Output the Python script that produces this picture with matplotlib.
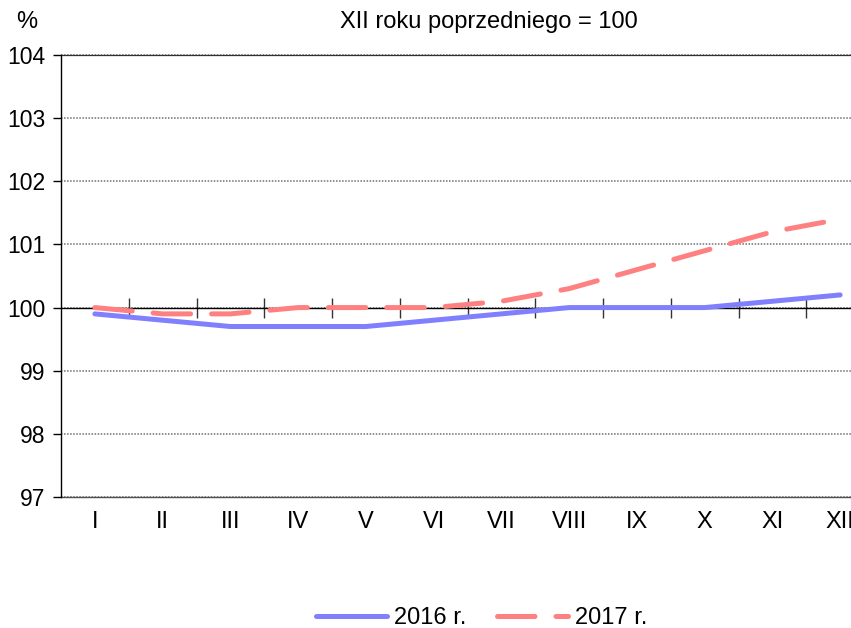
import matplotlib
matplotlib.use('Agg')
import matplotlib.pyplot as plt
import matplotlib.transforms as mtransforms
import numpy as np

plt.rcParams['font.family'] = ['Liberation Sans', 'DejaVu Sans']

months = ['I', 'II', 'III', 'IV', 'V', 'VI', 'VII', 'VIII', 'IX', 'X', 'XI', 'XII']
vals_2016 = [99.9, 99.8, 99.7, 99.7, 99.7, 99.8, 99.9, 100.0, 100.0, 100.0, 100.1, 100.2]
vals_2017 = [100.0, 99.9, 99.9, 100.0, 100.0, 100.0, 100.1, 100.3, 100.6, 100.9, 101.2, 101.4]
y_ticks = [97, 98, 99, 100, 101, 102, 103, 104]

W, H = 851, 628
fig = plt.figure(figsize=(W / 100, H / 100), dpi=100)
# plot area: left 61px, top 55px, bottom 497px, extends past right edge
ax = fig.add_axes([61 / W, 1 - 497 / H, 813 / W, 442 / H])

x = np.arange(len(months))
ax.set_xlim(-0.5, len(months) - 0.5)
ax.set_ylim(97, 104)

# grid
for v in y_ticks:
    ax.axhline(v, color='#707070', lw=1.1, ls=(0, (1, 1)), zorder=1, clip_on=False)
ax.axhline(104, color='#303030', lw=0.9, zorder=1, clip_on=False)
ax.axhline(97, color='#505050', lw=1.0, zorder=1, clip_on=False)

# axes lines
for s in ['top', 'right']:
    ax.spines[s].set_visible(False)
ax.spines['left'].set_color('black')
ax.spines['left'].set_linewidth(1)
ax.spines['bottom'].set_position(('data', 100))
ax.spines['bottom'].set_color('black')
ax.spines['bottom'].set_linewidth(1)
ax.spines['bottom'].set_zorder(2)

ax.set_xticks(x[:-1] + 0.5)
ax.set_xticklabels([])
ax.tick_params(axis='x', direction='inout', length=14, width=1, color='#333333')
ax.set_yticks(y_ticks)
ax.set_yticklabels([str(v) for v in y_ticks], fontsize=16.5)
ax.tick_params(axis='y', direction='out', length=6, width=1, pad=5)

trans = mtransforms.blended_transform_factory(ax.transData, ax.transAxes)
for i, m in enumerate(months):
    ax.text(i, -25 / 442, m, transform=trans, ha='center', va='center', fontsize=17)

l1, = ax.plot(x, vals_2016, color='#8080FF', lw=3.6, solid_capstyle='round',
              solid_joinstyle='round', label='2016 r.', zorder=4, clip_on=False)
l2, = ax.plot(x, vals_2017, color='#FF8080', lw=3.6, ls=(0, (7.5, 4.2)),
              dash_capstyle='round', label='2017 r.', zorder=5, clip_on=False)

fig.text(27 / W, 1 - 22 / H, '%', ha='center', va='center', fontsize=17)
fig.text(489 / W, 1 - 22 / H, 'XII roku poprzedniego = 100', ha='center', va='center', fontsize=17)

fig.legend(handles=[l1, l2], loc='center', bbox_to_anchor=(482 / W, 1 - 618 / H),
           ncol=2, frameon=False, fontsize=17, handlelength=3.0, handletextpad=0.3,
           columnspacing=1.3)

fig.savefig('out.png', dpi=100)
